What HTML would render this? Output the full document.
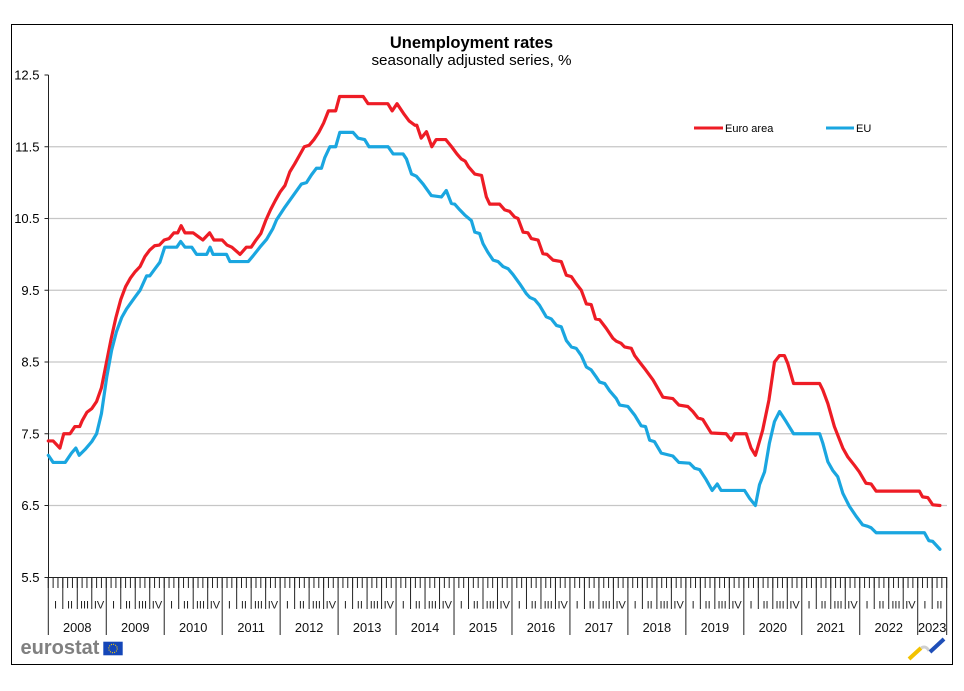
<!DOCTYPE html>
<html><head><meta charset="utf-8"><style>
html,body{margin:0;padding:0;background:#fff;}
svg{display:block;}
</style></head><body>
<svg width="964" height="691" viewBox="0 0 964 691" xmlns="http://www.w3.org/2000/svg" font-family="'Liberation Sans', Arial, sans-serif">
<rect width="964" height="691" fill="#fff"/>
<rect x="11.5" y="24.5" width="941" height="640" fill="none" stroke="#000" stroke-width="1"/>

<text x="471.5" y="48" text-anchor="middle" font-size="16.5" font-weight="bold" fill="#000">Unemployment rates</text>
<text x="471.5" y="65" text-anchor="middle" font-size="15.2" fill="#000">seasonally adjusted series, %</text>

<g stroke="#C6C6C6" stroke-width="1.2">
<line x1="48.5" y1="146.75" x2="947" y2="146.75"/>
<line x1="48.5" y1="218.5" x2="947" y2="218.5"/>
<line x1="48.5" y1="290.25" x2="947" y2="290.25"/>
<line x1="48.5" y1="362" x2="947" y2="362"/>
<line x1="48.5" y1="433.75" x2="947" y2="433.75"/>
<line x1="48.5" y1="505.5" x2="947" y2="505.5"/>
</g>

<g stroke="#222" stroke-width="1" fill="none">
<path d="M48.5 75V577.5H947"/>
<path d="M44.5 75H48.5M44.5 146.75H48.5M44.5 218.5H48.5M44.5 290.25H48.5M44.5 362H48.5M44.5 433.75H48.5M44.5 505.5H48.5M44.5 577.5H48.5"/>
</g>

<g font-size="13" fill="#000" text-anchor="end">
<text x="39.5" y="79.6">12.5</text>
<text x="39.5" y="151.3">11.5</text>
<text x="39.5" y="223.1">10.5</text>
<text x="39.5" y="294.8">9.5</text>
<text x="39.5" y="366.6">8.5</text>
<text x="39.5" y="438.3">7.5</text>
<text x="39.5" y="510.1">6.5</text>
<text x="39.5" y="581.8">5.5</text>
</g>

<g transform="translate(48.3 0) scale(4.83 1)" stroke="#222" fill="none">
<path vector-effect="non-scaling-stroke" stroke-width="1" d="M0 577v11M1 577v11M2 577v11M3 577v11M4 577v11M5 577v11M6 577v11M7 577v11M8 577v11M9 577v11M10 577v11M11 577v11
M12 577v11M13 577v11M14 577v11M15 577v11M16 577v11M17 577v11M18 577v11M19 577v11M20 577v11M21 577v11M22 577v11M23 577v11
M24 577v11M25 577v11M26 577v11M27 577v11M28 577v11M29 577v11M30 577v11M31 577v11M32 577v11M33 577v11M34 577v11M35 577v11
M36 577v11M37 577v11M38 577v11M39 577v11M40 577v11M41 577v11M42 577v11M43 577v11M44 577v11M45 577v11M46 577v11M47 577v11
M48 577v11M49 577v11M50 577v11M51 577v11M52 577v11M53 577v11M54 577v11M55 577v11M56 577v11M57 577v11M58 577v11M59 577v11
M60 577v11M61 577v11M62 577v11M63 577v11M64 577v11M65 577v11M66 577v11M67 577v11M68 577v11M69 577v11M70 577v11M71 577v11
M72 577v11M73 577v11M74 577v11M75 577v11M76 577v11M77 577v11M78 577v11M79 577v11M80 577v11M81 577v11M82 577v11M83 577v11
M84 577v11M85 577v11M86 577v11M87 577v11M88 577v11M89 577v11M90 577v11M91 577v11M92 577v11M93 577v11M94 577v11M95 577v11
M96 577v11M97 577v11M98 577v11M99 577v11M100 577v11M101 577v11M102 577v11M103 577v11M104 577v11M105 577v11M106 577v11M107 577v11
M108 577v11M109 577v11M110 577v11M111 577v11M112 577v11M113 577v11M114 577v11M115 577v11M116 577v11M117 577v11M118 577v11M119 577v11
M120 577v11M121 577v11M122 577v11M123 577v11M124 577v11M125 577v11M126 577v11M127 577v11M128 577v11M129 577v11M130 577v11M131 577v11
M132 577v11M133 577v11M134 577v11M135 577v11M136 577v11M137 577v11M138 577v11M139 577v11M140 577v11M141 577v11M142 577v11M143 577v11
M144 577v11M145 577v11M146 577v11M147 577v11M148 577v11M149 577v11M150 577v11M151 577v11M152 577v11M153 577v11M154 577v11M155 577v11
M156 577v11M157 577v11M158 577v11M159 577v11M160 577v11M161 577v11M162 577v11M163 577v11M164 577v11M165 577v11M166 577v11M167 577v11
M168 577v11M169 577v11M170 577v11M171 577v11M172 577v11M173 577v11M174 577v11M175 577v11M176 577v11M177 577v11M178 577v11M179 577v11
M180 577v11M181 577v11M182 577v11M183 577v11M184 577v11M185 577v11M186 577v11"/>
<path vector-effect="non-scaling-stroke" stroke-width="1" d="M3 577v32M6 577v32M9 577v32M15 577v32M18 577v32M21 577v32M27 577v32M30 577v32M33 577v32M39 577v32M42 577v32M45 577v32M51 577v32M54 577v32M57 577v32M63 577v32M66 577v32M69 577v32M75 577v32M78 577v32M81 577v32M87 577v32M90 577v32M93 577v32M99 577v32M102 577v32M105 577v32M111 577v32M114 577v32M117 577v32M123 577v32M126 577v32M129 577v32M135 577v32M138 577v32M141 577v32M147 577v32M150 577v32M153 577v32M159 577v32M162 577v32M165 577v32M171 577v32M174 577v32M177 577v32M183 577v32"/>
<path vector-effect="non-scaling-stroke" stroke-width="1" d="M0 577v58M12 577v58M24 577v58M36 577v58M48 577v58M60 577v58M72 577v58M84 577v58M96 577v58M108 577v58M120 577v58M132 577v58M144 577v58M156 577v58M168 577v58M180 577v58M186 577v58"/>
</g>

<g font-size="11" fill="#222" text-anchor="middle">
<text x="55.55" y="608.5">I</text><text x="70.04" y="608.5">II</text><text x="84.53" y="608.5">III</text><text x="99.02" y="608.5">IV</text>
<text x="113.51" y="608.5">I</text><text x="128.0" y="608.5">II</text><text x="142.49" y="608.5">III</text><text x="156.98" y="608.5">IV</text>
<text x="171.47" y="608.5">I</text><text x="185.96" y="608.5">II</text><text x="200.45" y="608.5">III</text><text x="214.94" y="608.5">IV</text>
<text x="229.43" y="608.5">I</text><text x="243.92" y="608.5">II</text><text x="258.41" y="608.5">III</text><text x="272.9" y="608.5">IV</text>
<text x="287.39" y="608.5">I</text><text x="301.88" y="608.5">II</text><text x="316.37" y="608.5">III</text><text x="330.86" y="608.5">IV</text>
<text x="345.35" y="608.5">I</text><text x="359.84" y="608.5">II</text><text x="374.33" y="608.5">III</text><text x="388.82" y="608.5">IV</text>
<text x="403.31" y="608.5">I</text><text x="417.8" y="608.5">II</text><text x="432.29" y="608.5">III</text><text x="446.78" y="608.5">IV</text>
<text x="461.27" y="608.5">I</text><text x="475.76" y="608.5">II</text><text x="490.25" y="608.5">III</text><text x="504.74" y="608.5">IV</text>
<text x="519.23" y="608.5">I</text><text x="533.72" y="608.5">II</text><text x="548.21" y="608.5">III</text><text x="562.7" y="608.5">IV</text>
<text x="577.19" y="608.5">I</text><text x="591.68" y="608.5">II</text><text x="606.17" y="608.5">III</text><text x="620.66" y="608.5">IV</text>
<text x="635.15" y="608.5">I</text><text x="649.64" y="608.5">II</text><text x="664.13" y="608.5">III</text><text x="678.62" y="608.5">IV</text>
<text x="693.11" y="608.5">I</text><text x="707.6" y="608.5">II</text><text x="722.09" y="608.5">III</text><text x="736.58" y="608.5">IV</text>
<text x="751.07" y="608.5">I</text><text x="765.56" y="608.5">II</text><text x="780.05" y="608.5">III</text><text x="794.54" y="608.5">IV</text>
<text x="809.03" y="608.5">I</text><text x="823.52" y="608.5">II</text><text x="838.01" y="608.5">III</text><text x="852.5" y="608.5">IV</text>
<text x="866.99" y="608.5">I</text><text x="881.48" y="608.5">II</text><text x="895.97" y="608.5">III</text><text x="910.46" y="608.5">IV</text>
<text x="924.95" y="608.5">I</text><text x="939.44" y="608.5">II</text>
</g>

<g font-size="12.8" fill="#111" text-anchor="middle">
<text x="77.28" y="632">2008</text>
<text x="135.24" y="632">2009</text>
<text x="193.2" y="632">2010</text>
<text x="251.16" y="632">2011</text>
<text x="309.12" y="632">2012</text>
<text x="367.08" y="632">2013</text>
<text x="425.04" y="632">2014</text>
<text x="483.0" y="632">2015</text>
<text x="540.96" y="632">2016</text>
<text x="598.92" y="632">2017</text>
<text x="656.88" y="632">2018</text>
<text x="714.84" y="632">2019</text>
<text x="772.8" y="632">2020</text>
<text x="830.76" y="632">2021</text>
<text x="888.72" y="632">2022</text>
<text x="932.2" y="632">2023</text>
</g>

<g transform="translate(48.3 75) scale(4.83 -71.75) translate(0 -12.5)" fill="none" stroke-linejoin="round" stroke-linecap="round">
<path vector-effect="non-scaling-stroke" stroke="#EE1C25" stroke-width="3.2" d="M0 7.4L1 7.4 2.4 7.3 3.2 7.5 4.5 7.5 5.5 7.6 6.5 7.6 7 7.68 8 7.8 9 7.85 10 7.95 11 8.14 12 8.48 13 8.82 14 9.12 15 9.37 16 9.55 17 9.67 18 9.76 19 9.83 20 9.97 21 10.06 22 10.12 23 10.13 24 10.2 25 10.22 26 10.3 26.8 10.3 27.5 10.4 28.3 10.3 30 10.3 31 10.25 32 10.2 33.4 10.3 34.3 10.2 36 10.2 37 10.13 38 10.1 39.7 10 41 10.1 42 10.1 43 10.2 44 10.29 45 10.47 46 10.62 47 10.75 48 10.87 49 10.96 50 11.15 51 11.26 52 11.38 53 11.5 54 11.52 55 11.6 56 11.7 57 11.83 58 12 59.5 12 60.3 12.2 65.2 12.2 66.2 12.1 70.3 12.1 71.2 12 72.2 12.1 73.7 11.95 74.7 11.86 75.9 11.8 76.3 11.8 77.2 11.62 78.3 11.71 79.4 11.5 80.3 11.6 82.3 11.6 83.5 11.5 84.6 11.4 85.5 11.33 86.3 11.3 87 11.22 88.3 11.12 89.7 11.1 90.7 10.8 91.4 10.7 93.45 10.7 94.5 10.62 95.5 10.6 96.55 10.52 97.25 10.5 98.3 10.31 99.3 10.3 100 10.22 101.4 10.2 102.4 10.01 103.25 10 104.5 9.92 106.2 9.9 107.25 9.71 108.3 9.69 109.3 9.59 110.35 9.5 111.4 9.31 112.4 9.3 113.3 9.1 114.15 9.09 115.5 8.97 116.9 8.83 117.6 8.79 118.6 8.76 119.3 8.71 120.7 8.69 121.4 8.59 122.4 8.5 123.45 8.41 125.2 8.25 127.25 8.01 129.3 7.99 130.55 7.9 132.4 7.88 133.45 7.81 134.5 7.72 135.5 7.7 137.25 7.51 140.35 7.5 141.4 7.41 142.1 7.5 144.5 7.5 145.5 7.3 146.4 7.2 147.9 7.55 149.2 7.97 150.35 8.5 151.4 8.59 152.4 8.59 153.1 8.48 154.3 8.2 159.7 8.2 160.35 8.11 161.4 7.92 162.75 7.6 164.5 7.3 165.5 7.18 166.9 7.06 167.9 6.97 169.3 6.81 170.35 6.8 171.4 6.7 180.35 6.7 181 6.62 182.1 6.61 183.1 6.51 184.6 6.5"/>
<path vector-effect="non-scaling-stroke" stroke="#1AA6E0" stroke-width="3.2" d="M0 7.2L1 7.1 3.5 7.1 4.8 7.23 5.7 7.3 6.4 7.2 7.6 7.28 9 7.39 10 7.5 11 7.78 12.1 8.29 13.1 8.66 14.1 8.92 15.2 9.12 16.2 9.24 17.9 9.4 19 9.5 20.35 9.7 21 9.7 22.1 9.8 23.1 9.89 24.1 10.1 26.6 10.1 27.4 10.18 28.3 10.1 29.7 10.1 30.7 10 32.8 10 33.5 10.1 34.1 10 36.9 10 37.6 9.9 41.4 9.9 42.4 9.98 43.8 10.1 45.2 10.21 46.5 10.36 47.25 10.48 49 10.66 50.7 10.82 52.4 10.98 53.45 11 54.5 11.11 55.5 11.2 56.55 11.2 57.25 11.35 58.3 11.5 59.5 11.5 60.35 11.7 63.1 11.7 64.15 11.62 65.5 11.6 66.4 11.5 70.35 11.5 71.4 11.4 73.45 11.4 74.15 11.33 75.2 11.12 76.2 11.09 77.6 10.98 79.3 10.82 81.4 10.8 82.4 10.89 83.45 10.71 84.15 10.7 85.2 10.62 86.2 10.55 87.6 10.47 88.3 10.31 89.3 10.29 90 10.15 91 10.03 92.1 9.92 93.1 9.9 94.15 9.83 95.2 9.8 96.2 9.72 97.6 9.59 99 9.45 99.7 9.4 100.7 9.37 101.7 9.29 103.1 9.13 104.15 9.1 105.2 9.01 106.2 8.99 107.25 8.8 108.3 8.71 109.3 8.69 110.35 8.59 111.4 8.43 112.4 8.39 113.45 8.29 114.15 8.22 115.2 8.2 116.2 8.1 117.6 7.99 118.3 7.9 120 7.88 121.4 7.76 122.75 7.61 123.65 7.6 124.5 7.41 125.5 7.39 126.9 7.23 129.3 7.19 130.55 7.1 132.75 7.09 133.8 7.02 134.85 7 136.2 6.86 137.45 6.71 138.5 6.8 139.3 6.71 144.15 6.71 145.2 6.6 146.4 6.5 147.25 6.79 148.3 6.97 149.3 7.37 150.35 7.67 151.4 7.81 152.75 7.67 154.3 7.5 159.7 7.5 160.35 7.37 161.4 7.11 162.4 6.99 163.45 6.9 164.5 6.67 165.85 6.49 167.25 6.35 168.6 6.23 169.65 6.21 170.35 6.19 171.4 6.12 181.4 6.12 182.3 6.01 183.1 6 184.6 5.89"/>
</g>

<line x1="694" y1="128" x2="723" y2="128" stroke="#EE1C25" stroke-width="3"/>
<text x="725" y="132" font-size="11" fill="#000">Euro area</text>
<line x1="826" y1="128" x2="854" y2="128" stroke="#1AA6E0" stroke-width="3"/>
<text x="856" y="132" font-size="11" fill="#000">EU</text>

<text x="20.5" y="654" font-size="20" font-weight="bold" fill="#808080">eurostat</text>
<rect x="103.3" y="641.7" width="19.4" height="13.6" fill="#1446B8"/>
<circle cx="113" cy="648.5" r="4.2" fill="none" stroke="#FFD200" stroke-width="1.1" stroke-dasharray="1 1.2"/>

<line x1="909" y1="659" x2="921" y2="648" stroke="#F2C200" stroke-width="4"/>
<path d="M921 648 Q926 645 929 651" fill="none" stroke="#D0D0D0" stroke-width="3"/>
<line x1="930" y1="652" x2="944" y2="639" stroke="#1F4FB8" stroke-width="4"/>
</svg>
</body></html>
